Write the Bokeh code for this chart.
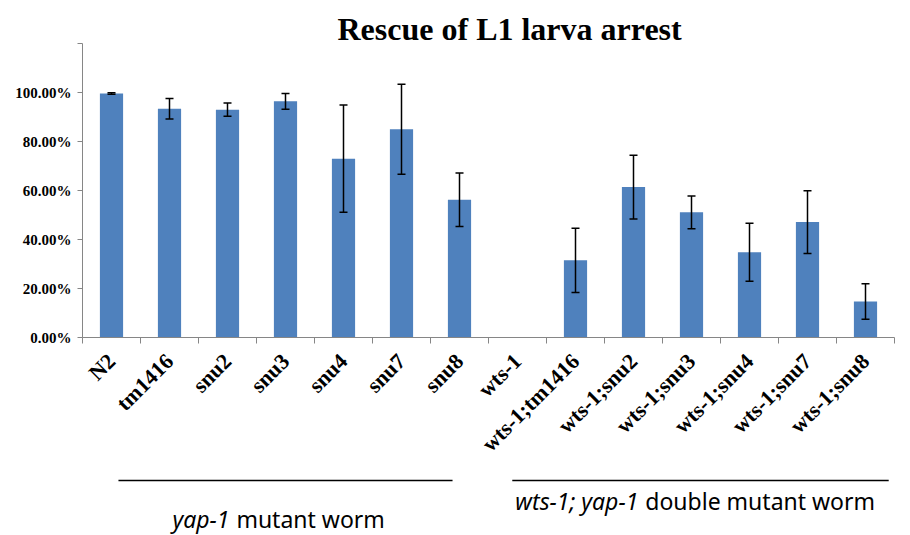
from math import pi
from bokeh.plotting import figure
from bokeh.models import ColumnDataSource, Whisker, TeeHead, FixedTicker, NumeralTickFormatter, Range1d
from bokeh.layouts import column
from bokeh.embed import file_html
from bokeh.resources import INLINE
from bokeh.core.properties import value

# ---- data ----
categories = ["N2", "tm1416", "snu2", "snu3", "snu4", "snu7", "snu8", "wts-1",
              "wts-1;tm1416", "wts-1;snu2", "wts-1;snu3", "wts-1;snu4",
              "wts-1;snu7", "wts-1;snu8"]
rescue = [0.996, 0.934, 0.930, 0.964, 0.730, 0.850, 0.562, 0.0,
          0.315, 0.614, 0.511, 0.348, 0.471, 0.147]
err = [0.003, 0.042, 0.027, 0.032, 0.219, 0.184, 0.109, float("nan"),
       0.131, 0.130, 0.067, 0.118, 0.128, 0.072]
y_ticks = [0.0, 0.2, 0.4, 0.6, 0.8, 1.0, 1.2]
title_text = "Rescue of L1 larva arrest"
group_italic = ["yap-1", "wts-1; yap-1"]
group_plain = ["mutant worm", "double mutant worm"]
group_first = [0, 7]
group_last = [6, 13]

# ---- layout / style constants ----
BAR = "#4F81BD"
AXIS = "#868686"
SERIF = "Liberation Serif"
SANS = "Noto Sans"
W = 902
n = len(categories)
xc = [i + 0.5 for i in range(n)]
xr = Range1d(0, n)

# ---- main chart ----
src = ColumnDataSource(dict(
    x=xc, top=rescue,
    upper=[r + e for r, e in zip(rescue, err)],
    lower=[r - e for r, e in zip(rescue, err)],
))

p = figure(width=W, height=470, x_range=xr, y_range=Range1d(0, 1.2),
           output_backend="svg", toolbar_location=None,
           min_border_left=82, min_border_right=8, min_border_top=43, min_border_bottom=133)
p.outline_line_color = None
p.xgrid.visible = False
p.ygrid.visible = False
p.title.text = title_text
p.title.align = "left"
p.title.offset = 255
p.title.standoff = -6
p.title.text_font = SERIF
p.title.text_font_style = "bold"
p.title.text_font_size = "32px"
p.title.text_color = "black"

p.vbar(x="x", top="top", width=0.4, bottom=0, source=src, fill_color=BAR, line_color=None)
wk = Whisker(base="x", upper="upper", lower="lower", source=src, line_color="black", line_width=1.5,
             upper_head=TeeHead(size=8, line_color="black", line_width=1.5),
             lower_head=TeeHead(size=8, line_color="black", line_width=1.5),
             level="overlay")
p.add_layout(wk)

xa = p.xaxis[0]
xa.ticker = FixedTicker(ticks=xc, minor_ticks=list(range(n + 1)))
xa.major_label_overrides = {x: c for x, c in zip(xc, categories)}
xa.major_tick_out = 0
xa.major_tick_in = 0
xa.minor_tick_out = 6
xa.minor_tick_in = 0
xa.minor_tick_line_color = AXIS
xa.axis_line_color = AXIS
xa.major_label_orientation = pi / 4
xa.major_label_standoff = 14
xa.major_label_text_font = SERIF
xa.major_label_text_font_style = "bold"
xa.major_label_text_font_size = "22px"
xa.major_label_text_color = "black"

ya = p.yaxis[0]
ya.ticker = FixedTicker(ticks=y_ticks, minor_ticks=[])
ya.formatter = NumeralTickFormatter(format="0.00%")
ya.major_label_overrides = {1.2: ""}
ya.major_tick_out = 5
ya.major_tick_in = 0
ya.major_tick_line_color = AXIS
ya.axis_line_color = AXIS
ya.major_label_standoff = 6
ya.major_label_text_font = SERIF
ya.major_label_text_font_style = "bold"
ya.major_label_text_font_size = "15px"
ya.major_label_text_color = "black"

# ---- group annotation strip ----
SH = 64
q = figure(width=W, height=SH, x_range=xr, y_range=Range1d(SH, 0),
           output_backend="svg", toolbar_location=None,
           x_axis_location=None, y_axis_location=None,
           min_border_left=82, min_border_right=8, min_border_top=0, min_border_bottom=0)
q.outline_line_color = None
q.xgrid.visible = False
q.ygrid.visible = False

pad_start = [0.62, 0.41]
pad_end = [0.62, 0.1]
x0 = [f + a for f, a in zip(group_first, pad_start)]
x1 = [l + 1 - b for l, b in zip(group_last, pad_end)]
q.segment(x0=x0, y0=[10, 10], x1=x1, y1=[10, 10], line_color="black", line_width=1.5)

split = [2.55, 9.6]
mid_y = [48, 30]
q.text(x=split, y=mid_y, text=group_italic, text_align="right", text_baseline="middle",
       x_offset=-1, text_font=value(SANS), text_font_style="italic", text_font_size="23px",
       text_color="black")
q.text(x=split, y=mid_y, text=group_plain, text_align="left", text_baseline="middle",
       x_offset=6, text_font=value(SANS), text_font_size="23px", text_color="black")

layout = column(p, q, spacing=0)
open("out.html", "w").write(file_html(layout, INLINE))
